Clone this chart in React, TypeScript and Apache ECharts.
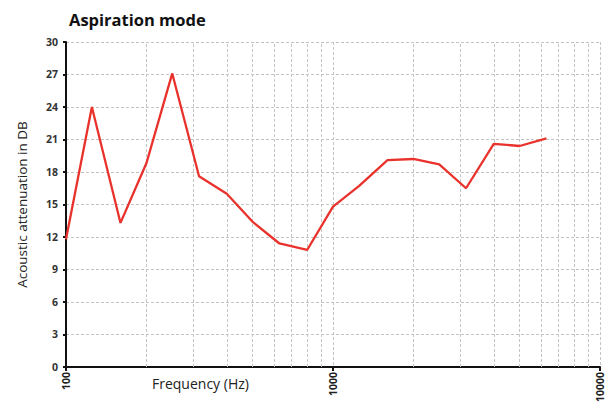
import React, { useEffect, useRef } from "react";
import * as echarts from "echarts";

const frequencies = [100, 125, 160, 200, 250, 315, 400, 500, 630, 800, 1000, 1250, 1600, 2000, 2500, 3150, 4000, 5000, 6300];
const attenuation = [11.8, 24.0, 13.3, 18.8, 27.1, 17.6, 16.0, 13.4, 11.4, 10.8, 14.8, 16.7, 19.1, 19.2, 18.7, 16.5, 20.6, 20.4, 21.1];
const minorGridFreqs = [200, 300, 400, 500, 600, 700, 800, 900, 2000, 3000, 4000, 5000, 6000, 7000, 8000, 9000];
const titleText = "Aspiration mode";
const xAxisTitle = "Frequency (Hz)";
const yAxisTitle = "Acoustic attenuation in DB";

export default function App() {
  const ref = useRef<HTMLDivElement>(null);
  useEffect(() => {
    if (!ref.current) return;
    const chart = echarts.init(ref.current, undefined, { renderer: "svg" });
    const gridLine = { color: "#c4c4c4", width: 1, type: [3, 2] as any };
    chart.setOption({
      animation: false,
      backgroundColor: "#ffffff",
      title: {
        text: titleText,
        left: 64,
        top: 6,
        textStyle: { fontFamily: "Open Sans", fontSize: 16.5, fontWeight: "bold", color: "#111" },
      },
      grid: { left: 66, right: 14, top: 42, bottom: 38 },
      graphic: [
        {
          type: "text",
          left: 152,
          top: 376,
          style: { text: xAxisTitle, fontFamily: "Open Sans", fontSize: 14, fill: "#222" },
        },
      ],
      xAxis: {
        type: "log",
        logBase: 10,
        min: 100,
        max: 10000,
        axisLine: { show: true, onZero: false, lineStyle: { color: "#111", width: 2 } },
        axisTick: { show: true, length: 4, lineStyle: { color: "#111", width: 2 } },
        axisLabel: {
          rotate: 90,
          fontFamily: "Open Sans",
          fontSize: 10.5,
          fontWeight: "bold",
          color: "#222",
          margin: 5,
          formatter: (v: number) => String(Math.round(v)),
        },
        splitLine: { show: true, lineStyle: gridLine },
      },
      yAxis: {
        type: "value",
        min: 0,
        max: 30,
        interval: 3,
        name: yAxisTitle,
        nameLocation: "middle",
        nameGap: 37,
        nameTextStyle: { fontFamily: "Open Sans", fontSize: 13.5, color: "#222" },
        axisLine: { show: true, lineStyle: { color: "#111", width: 2 } },
        axisTick: { show: true, length: 3, lineStyle: { color: "#111", width: 2 } },
        axisLabel: {
          fontFamily: "Open Sans",
          fontSize: 10.5,
          fontWeight: "bold",
          color: "#333",
          margin: 8,
        },
        splitLine: { show: true, lineStyle: gridLine },
      },
      series: [
        {
          type: "line",
          data: frequencies.map((f, i) => [f, attenuation[i]]),
          symbol: "none",
          lineStyle: { color: "#e8322b", width: 2.3 },
          z: 5,
          markLine: {
            silent: true,
            symbol: "none",
            label: { show: false },
            lineStyle: gridLine,
            z: 1,
            data: minorGridFreqs.map((f) => ({ xAxis: f })),
          },
        },
      ],
    });
    return () => chart.dispose();
  }, []);
  return <div ref={ref} style={{ position: "absolute", left: 0, top: 0, width: 614, height: 405 }} />;
}
